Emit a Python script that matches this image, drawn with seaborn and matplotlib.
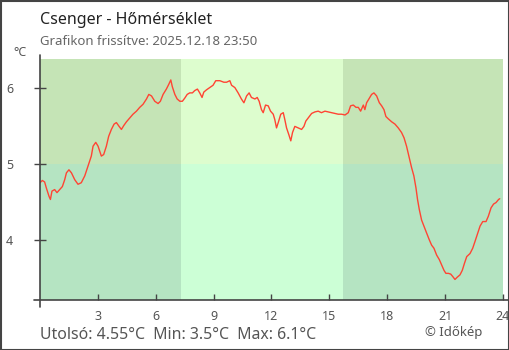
import matplotlib
matplotlib.use("Agg")
import matplotlib.pyplot as plt
import seaborn as sns
import pandas as pd
from matplotlib.lines import Line2D
from matplotlib.patches import Rectangle

# ---- data -------------------------------------------------------------
hours = [0.00, 0.12, 0.24, 0.33, 0.47, 0.54, 0.62, 0.76, 0.88, 1.02, 1.16, 1.28, 1.37, 1.50, 1.63,
         1.80, 1.97, 2.14, 2.32, 2.49, 2.66, 2.75, 2.89, 3.01, 3.18, 3.30, 3.44, 3.56, 3.70, 3.84,
         3.96, 4.10, 4.22, 4.34, 4.48, 4.65, 4.82, 5.00, 5.17, 5.34, 5.52, 5.64, 5.78, 5.95, 6.12,
         6.24, 6.38, 6.55, 6.67, 6.78, 6.86, 6.99, 7.11, 7.25, 7.38, 7.50, 7.63, 7.76, 7.90, 8.02,
         8.16, 8.28, 8.40, 8.49, 8.63, 8.80, 8.97, 9.11, 9.32, 9.53, 9.67, 9.84, 9.93, 10.10, 10.27,
         10.44, 10.57, 10.71, 10.84, 10.96, 11.14, 11.26, 11.36, 11.48, 11.57, 11.69, 11.83, 11.95,
         12.09, 12.17, 12.26, 12.35, 12.48, 12.61, 12.69, 12.78, 12.90, 13.00, 13.09, 13.21, 13.38,
         13.56, 13.68, 13.78, 13.90, 14.08, 14.25, 14.42, 14.59, 14.77, 14.94, 15.11, 15.29, 15.46,
         15.63, 15.81, 15.98, 16.10, 16.24, 16.38, 16.50, 16.62, 16.76, 16.84, 16.93, 17.07, 17.19,
         17.31, 17.45, 17.59, 17.71, 17.83, 17.93, 18.05, 18.23, 18.40, 18.57, 18.74, 18.87, 19.00,
         19.14, 19.26, 19.38, 19.49, 19.57, 19.66, 19.78, 19.90, 20.04, 20.18, 20.30, 20.42, 20.56,
         20.70, 20.82, 20.94, 21.04, 21.17, 21.29, 21.39, 21.51, 21.63, 21.77, 21.89, 22.00, 22.12,
         22.29, 22.43, 22.55, 22.69, 22.81, 22.95, 23.12, 23.24, 23.38, 23.51, 23.64, 23.77, 23.83]
temps = [4.75, 4.78, 4.76, 4.68, 4.57, 4.53, 4.64, 4.66, 4.62, 4.66, 4.70, 4.79, 4.88, 4.92, 4.88,
         4.79, 4.73, 4.75, 4.84, 4.97, 5.10, 5.23, 5.28, 5.23, 5.10, 5.12, 5.23, 5.36, 5.45, 5.52,
         5.54, 5.49, 5.45, 5.50, 5.55, 5.60, 5.65, 5.69, 5.74, 5.78, 5.85, 5.91, 5.89, 5.82, 5.79,
         5.82, 5.91, 5.98, 6.04, 6.10, 6.01, 5.91, 5.85, 5.82, 5.82, 5.86, 5.91, 5.93, 5.93, 5.96,
         5.98, 5.93, 5.87, 5.94, 5.97, 6.00, 6.03, 6.09, 6.09, 6.07, 6.07, 6.09, 6.03, 6.00, 5.93,
         5.85, 5.80, 5.89, 5.93, 5.87, 5.85, 5.87, 5.82, 5.71, 5.67, 5.77, 5.76, 5.69,
         5.65, 5.58, 5.47, 5.54, 5.65, 5.67, 5.58, 5.47, 5.38, 5.30, 5.41, 5.49, 5.47,
         5.45, 5.49, 5.56, 5.60, 5.66, 5.68, 5.69, 5.67, 5.69, 5.68, 5.67, 5.66, 5.65,
         5.65, 5.64, 5.67, 5.76, 5.77, 5.74, 5.74, 5.69, 5.77, 5.71, 5.80, 5.86, 5.91,
         5.93, 5.89, 5.80, 5.76, 5.71, 5.62, 5.59, 5.55, 5.52, 5.47, 5.41, 5.34, 5.23,
         5.08, 4.95, 4.84, 4.68, 4.53, 4.40, 4.26, 4.18, 4.09, 4.00, 3.93, 3.89, 3.80,
         3.74, 3.67, 3.60, 3.56, 3.56, 3.55, 3.52, 3.48, 3.51, 3.54, 3.60, 3.69, 3.78,
         3.82, 3.89, 3.98, 4.09, 4.18, 4.24, 4.24, 4.31, 4.42, 4.47, 4.49, 4.53, 4.54]

x_ticks = [3, 6, 9, 12, 15, 18, 21, 24]
y_ticks = [4, 5, 6]
day_start, day_end = 7.3, 15.7
threshold = 5.0
title = "Csenger - Hőmérséklet"
subtitle = "Grafikon frissítve: 2025.12.18 23:50"
footer = "Utolsó: 4.55°C  Min: 3.5°C  Max: 6.1°C"
credit = "© Időkép"

df = pd.DataFrame({"hour": hours, "temp": temps})

# ---- style ------------------------------------------------------------
sns.set_theme(style="white")
plt.rcParams["font.family"] = ["Noto Sans", "DejaVu Sans"]

W, H = 510, 350
fig = plt.figure(figsize=(W / 100, H / 100), dpi=100)
fig.patch.set_facecolor("white")
ax = fig.add_axes([40 / W, 1 - 300 / H, 463 / W, 241 / H])

x0, x1 = 0, 24
y0, y1 = 3.21, 6.375
ax.set_xlim(x0, x1)
ax.set_ylim(y0, y1)

# background bands (night / day, above / below threshold)
night_hi, day_hi = "#c5e4b6", "#ddfdce"
night_lo, day_lo = "#b5e4c2", "#ccffd6"
bands = [
    (x0, day_start, night_lo, night_hi),
    (day_start, day_end, day_lo, day_hi),
    (day_end, x1, night_lo, night_hi),
]
for a, b, clo, chi in bands:
    ax.add_patch(Rectangle((a, y0), b - a, threshold - y0, color=clo, lw=0, zorder=0))
    ax.add_patch(Rectangle((a, threshold), b - a, y1 - threshold, color=chi, lw=0, zorder=0))

sns.lineplot(data=df, x="hour", y="temp", ax=ax, color="#ff4433", linewidth=1.0,
             estimator=None, sort=False, zorder=3)

ax.set_xlabel("")
ax.set_ylabel("")
ax.set_xticks(x_ticks)
ax.set_xticklabels([str(t) for t in x_ticks])
ax.set_yticks(y_ticks)
ax.set_yticklabels([str(t) for t in y_ticks])

axis_col = "#444444"
for s in ax.spines.values():
    s.set_visible(False)
ax.tick_params(axis="x", direction="in", length=4.5, width=1.0, color=axis_col,
               labelsize=9, labelcolor="#555555", pad=7.5, bottom=True)
ax.tick_params(axis="y", direction="inout", length=8.6, width=1.0, color=axis_col,
               labelsize=9, labelcolor="#555555", pad=15, left=True)

# axis lines (slightly extended past the plot area)
ax.add_line(Line2D([0, 0], [-0.029, 1.017], transform=ax.transAxes, color=axis_col,
                   lw=1.2, clip_on=False, zorder=5))
ax.add_line(Line2D([-0.013, 1.013], [0, 0], transform=ax.transAxes, color=axis_col,
                   lw=1.2, clip_on=False, zorder=5))

# texts
def ftext(x, y, s, **kw):
    fig.text(x / W, 1 - y / H, s, va="baseline", ha=kw.pop("ha", "left"), **kw)

ftext(40, 24, title, fontsize=11.5, color="#222222")
ftext(40, 45, subtitle, fontsize=9.5, color="#666666")
ftext(13, 56, "°C", fontsize=9, color="#555555")
ftext(40, 339, footer, fontsize=11.4, color="#555555")
ftext(425, 336, credit, fontsize=9.5, color="#555555")

# outer frame
fig.add_artist(Rectangle((0.5 / W, 0.5 / H), 1 - 1.5 / W, 1 - 1.5 / H, transform=fig.transFigure,
                         fill=False, edgecolor="#444444", lw=1.5, zorder=10))

fig.savefig("out.png", dpi=100)
